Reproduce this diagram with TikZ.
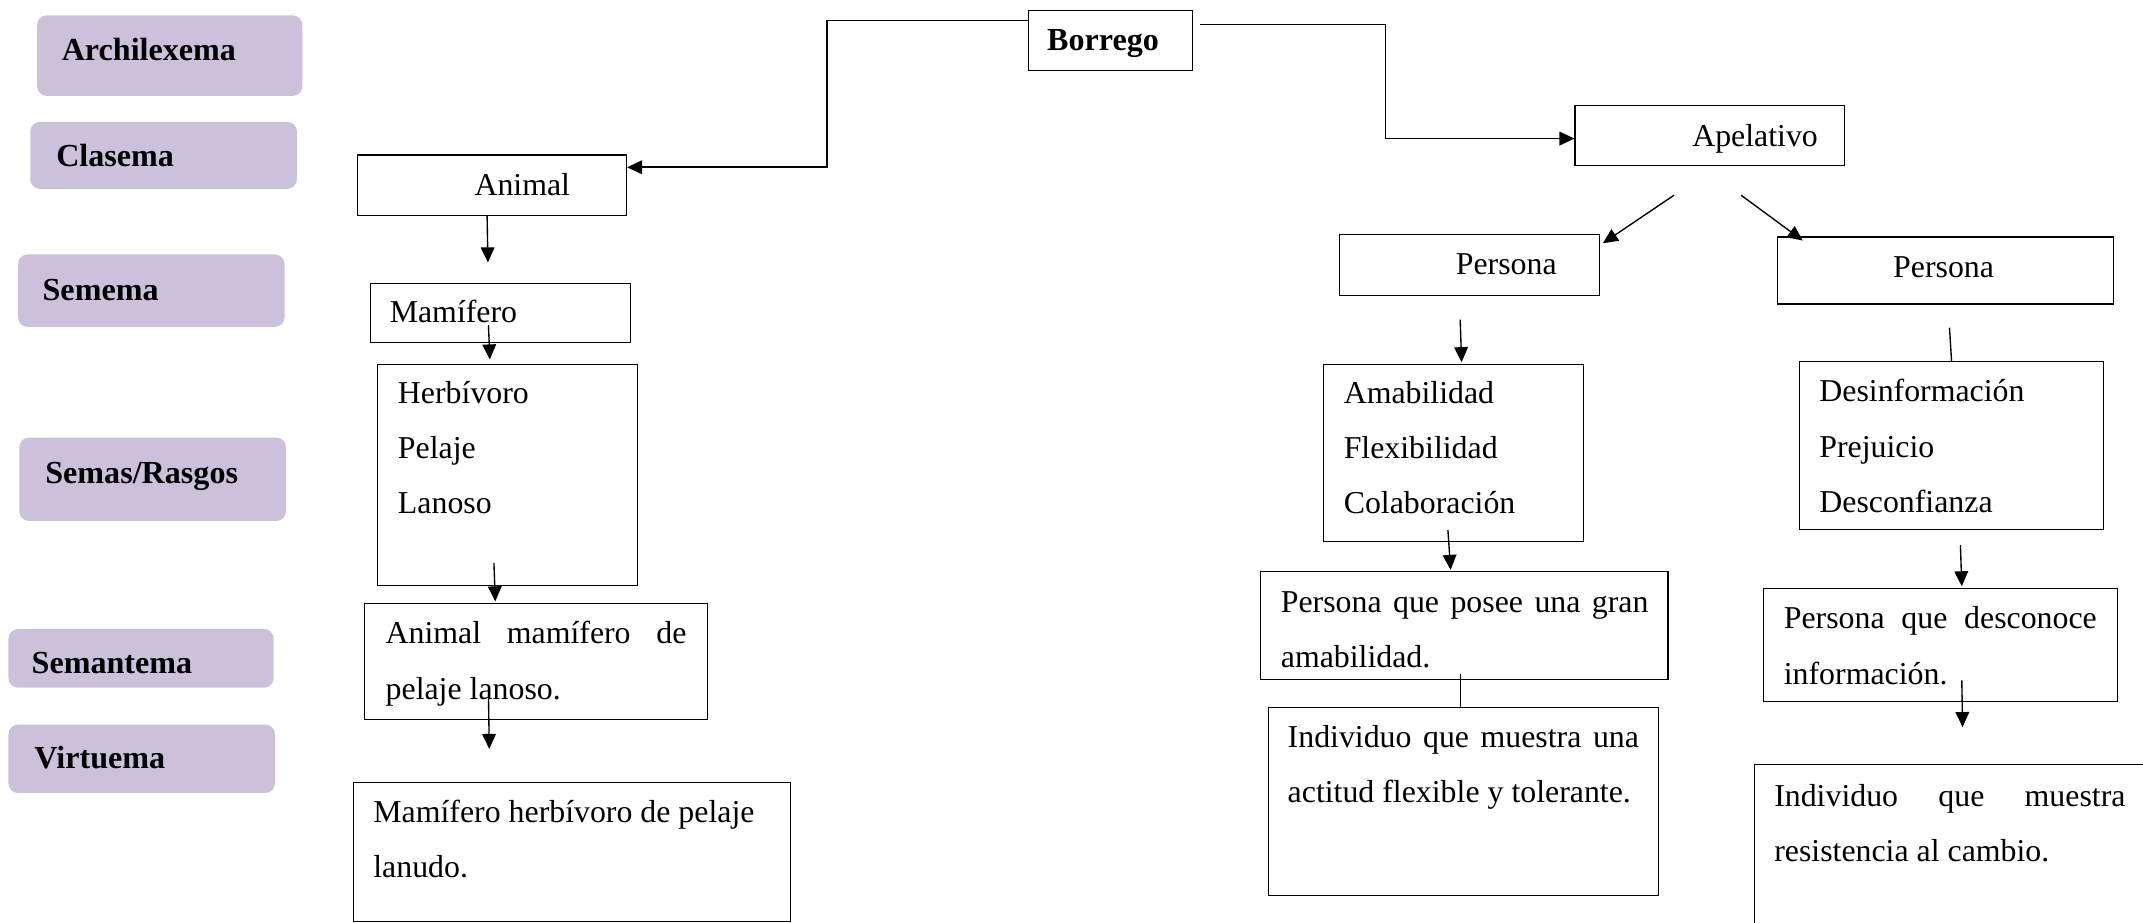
\documentclass[tikz,border=0pt]{standalone}
\usepackage{fontspec}
\setmainfont{Liberation Serif}
\usetikzlibrary{arrows.meta}
\definecolor{lavender}{HTML}{CCC1DA}
\begin{document}
\begin{tikzpicture}[x=1pt,y=-1pt,
  lab/.style={fill=lavender, rounded corners=7pt, draw=none, anchor=north west, inner sep=0pt},
  box/.style={draw, line width=0.8pt, anchor=north west, inner sep=0pt},
  txt/.style={anchor=base west, inner sep=0pt, font=\fontsize{23.3}{28}\selectfont},
  btxt/.style={anchor=base west, inner sep=0pt, font=\fontsize{23.5}{28}\selectfont\bfseries},
  conn/.style={line width=1pt},
  arr/.style={conn, -{Triangle[length=11pt,width=10pt]}},
  bigarr/.style={line width=1.3pt, -{Triangle[length=11pt,width=10pt]}},
]
\clip (0,0) rectangle (1568,675);

% ---- level labels ----
\node[lab, minimum width=194pt, minimum height=59pt] (l1) at (27,11) {};
\node[lab, minimum width=195pt, minimum height=49pt] (l2) at (22,89) {};
\node[lab, minimum width=195pt, minimum height=53pt] (l3) at (13,186) {};
\node[lab, minimum width=195pt, minimum height=61pt] (l4) at (14,320) {};
\node[lab, minimum width=194pt, minimum height=43pt] (l5) at (6,460) {};
\node[lab, minimum width=195pt, minimum height=50pt] (l6) at (6,530) {};
\node[btxt] (l1t) at (45,44) {Archilexema};
\node[btxt] (l2t) at (41,122) {Clasema};
\node[btxt] (l3t) at (31,220) {Semema};
\node[btxt] (l4t) at (33,354) {Semas/Rasgos};
\node[btxt] (l5t) at (23,493) {Semantema};
\node[btxt] (l6t) at (25,562) {Virtuema};

% ---- boxes ----
\node[box, minimum width=120pt, minimum height=44pt] (borrego) at (752,7) {};
\node[box, minimum width=197pt, minimum height=44pt] (animal) at (261,113) {};
\node[box, minimum width=190pt, minimum height=43pt] (mam) at (271,207) {};
\node[box, minimum width=190pt, minimum height=162pt] (herb) at (276,266) {};
\node[box, minimum width=251pt, minimum height=85pt] (anim2) at (266,441) {};
\node[box, minimum width=320pt, minimum height=102pt] (mam2) at (258,572) {};

\node[box, minimum width=197pt, minimum height=44pt] (apel) at (1152,77) {};
\node[box, minimum width=190pt, minimum height=45pt] (pers1) at (980,171) {};
\node[box, minimum width=246pt, minimum height=49pt] (pers2) at (1300,173) {};
\node[box, minimum width=190pt, minimum height=130pt] (amab) at (968,266) {};
\node[box, minimum width=298pt, minimum height=79pt] (posee) at (922,418) {};
\node[box, minimum width=285pt, minimum height=138pt] (indiv1) at (928,517) {};
\node[box, minimum width=223pt, minimum height=123pt] (desinf) at (1316,264) {};
\node[box, minimum width=259pt, minimum height=83pt] (descon) at (1290,430) {};
\node[box, minimum width=286pt, minimum height=140pt] (indiv2) at (1283,559) {};

% ---- texts ----
\node[btxt] (borregot) at (766,37) {Borrego};
\node[txt] (animalt) at (347,143) {Animal};
\node[txt] (mamt) at (285,236) {Mamífero};
\node[txt] (herb1) at (291,295) {Herbívoro};
\node[txt] (herb2) at (291,335.5) {Pelaje};
\node[txt] (herb3) at (291,376) {Lanoso};
\node[txt] (anim2a) at (282,471) {\makebox[220pt][s]{Animal mamífero de}};
\node[txt] (anim2b) at (282,511.5) {pelaje lanoso.};
\node[txt] (mam2a) at (273,602) {Mamífero herbívoro de pelaje};
\node[txt] (mam2b) at (273,642) {lanudo.};

\node[txt] (apelt) at (1238,107) {Apelativo};
\node[txt] (pers1t) at (1065,201) {Persona};
\node[txt] (pers2t) at (1385,203) {Persona};
\node[txt] (amab1) at (983,295) {Amabilidad};
\node[txt] (amab2) at (983,335.5) {Flexibilidad};
\node[txt] (amab3) at (983,376) {Colaboración};
\node[txt] (posee1) at (937,448) {\makebox[269pt][s]{Persona que posee una gran}};
\node[txt] (posee2) at (937,488.5) {amabilidad.};
\node[txt] (indiv1a) at (942,547) {\makebox[257pt][s]{Individuo que muestra una}};
\node[txt] (indiv1b) at (942,587.5) {actitud flexible y tolerante.};
\node[txt] (desinf1) at (1331,294) {Desinformación};
\node[txt] (desinf2) at (1331,334.5) {Prejuicio};
\node[txt] (desinf3) at (1331,375) {Desconfianza};
\node[txt] (descon1) at (1305,460) {\makebox[229pt][s]{Persona que desconoce}};
\node[txt] (descon2) at (1305,500.5) {información.};
\node[txt] (indiv2a) at (1298,590) {\makebox[257pt][s]{Individuo que muestra}};
\node[txt] (indiv2b) at (1298,630.5) {resistencia al cambio.};

% ---- free ends of connectors ----
\coordinate (animalend) at (357,192);
\coordinate (anim2end) at (358,548);
\coordinate (desconend) at (1436,532);

% ---- connectors ----
\draw[bigarr] ([yshift=-8pt]borrego.north west) -- ++(-147,0) |- ([yshift=13pt]animal.east);
\draw[bigarr] ([xshift=5pt,yshift=-11pt]borrego.north east) -- ++(136,0) |- ([yshift=-2pt]apel.west);

\draw[arr] ([xshift=-3.5pt]animal.south) -- (animalend);
\draw[arr] ([xshift=-9pt,yshift=13pt]mam.south) -- ([xshift=-13pt,yshift=3pt]herb.north);
\draw[arr] ([xshift=-10pt,yshift=17pt]herb.south) -- ([xshift=-29.5pt,yshift=1pt]anim2.north);
\draw[arr] ([xshift=-34.5pt,yshift=18pt]anim2.south) -- (anim2end);

\draw[arr] ([xshift=-26pt,yshift=-21pt]apel.south) -- ([xshift=2pt,yshift=-7pt]pers1.north east);
\draw[arr] ([xshift=23pt,yshift=-21pt]apel.south) -- ([xshift=19pt,yshift=-3pt]pers2.north west);
\draw[arr] ([xshift=-7pt,yshift=-17pt]pers1.south) -- ([xshift=6pt,yshift=1pt]amab.north);
\draw[conn] ([xshift=3pt,yshift=-17pt]pers2.south) -- (desinf.north);
\draw[arr] ([xshift=-4pt,yshift=9pt]amab.south) -- ([xshift=-10pt,yshift=1pt]posee.north);
\draw[conn] ([xshift=-3pt,yshift=5pt]posee.south) -- ([xshift=-2.5pt]indiv1.north);
\draw[arr] ([xshift=6.5pt,yshift=-11pt]desinf.south) -- ([xshift=15.5pt,yshift=1pt]descon.north);
\draw[arr] ([xshift=15.5pt,yshift=16pt]descon.south) -- (desconend);
\end{tikzpicture}
\end{document}
